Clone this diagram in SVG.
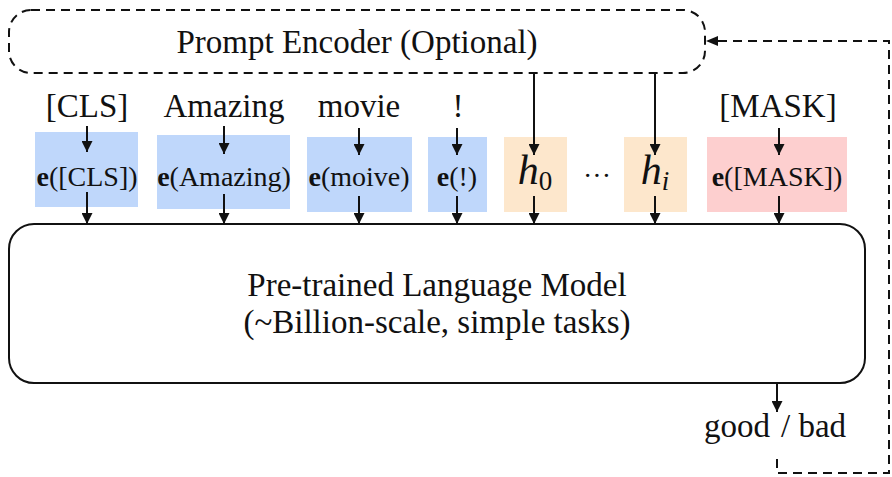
<svg xmlns="http://www.w3.org/2000/svg" width="892" height="477" viewBox="0 0 892 477">
  <style>
    .lbl { font-family: "Liberation Serif", "Times New Roman", serif; fill: #111; }
    .tok { font-size: 33px; }
    .emb { font-size: 28px; }
    .big { font-size: 33px; }
    .math { font-family: "Liberation Serif", "Times New Roman", serif; font-style: italic; font-size: 42px; fill: #111; }
    .wire { stroke: #111; stroke-width: 2; fill: none; }
    .dash { stroke: #111; stroke-width: 2; fill: none; stroke-dasharray: 9 6; }
    .blue { fill: #bfd7fb; }
    .orange { fill: #fde7cc; }
    .red { fill: #fdcfcf; }
  </style>
  <defs>
    <marker id="arrow" viewBox="0 0 10 10" refX="10" refY="5" markerWidth="5.5" markerHeight="5.5" orient="auto">
      <path d="M0,0 L10,5 L0,10 z" fill="#111"/>
    </marker>
  </defs>

  <!-- prompt encoder -->
  <g id="prompt-encoder">
    <rect x="9" y="10" width="696" height="63" rx="22" ry="22" class="dash"/>
    <text x="357" y="53" text-anchor="middle" class="lbl big">Prompt Encoder (Optional)</text>
  </g>

  <!-- input tokens -->
  <g id="tok-cls"><text x="87" y="117" text-anchor="middle" class="lbl tok">[CLS]</text></g>
  <g id="tok-amazing"><text x="224" y="117" text-anchor="middle" class="lbl tok">Amazing</text></g>
  <g id="tok-movie"><text x="359" y="117" text-anchor="middle" class="lbl tok">movie</text></g>
  <g id="tok-excl"><text x="458" y="117" text-anchor="middle" class="lbl tok">!</text></g>
  <g id="tok-mask"><text x="778" y="117" text-anchor="middle" class="lbl tok">[MASK]</text></g>

  <!-- embeddings -->
  <g id="emb-cls">
    <rect x="35" y="132" width="103" height="75" class="blue"/>
    <text x="87" y="186" text-anchor="middle" class="lbl emb"><tspan font-weight="bold">e</tspan>([CLS])</text>
  </g>
  <g id="emb-amazing">
    <rect x="157" y="135" width="133" height="74" class="blue"/>
    <text x="224" y="186" text-anchor="middle" class="lbl emb"><tspan font-weight="bold">e</tspan>(Amazing)</text>
  </g>
  <g id="emb-movie">
    <rect x="307" y="137" width="105" height="75" class="blue"/>
    <text x="359" y="186" text-anchor="middle" class="lbl emb"><tspan font-weight="bold">e</tspan>(moive)</text>
  </g>
  <g id="emb-excl">
    <rect x="428" y="137" width="59" height="75" class="blue"/>
    <text x="457" y="186" text-anchor="middle" class="lbl emb"><tspan font-weight="bold">e</tspan>(!)</text>
  </g>
  <g id="emb-h0">
    <rect x="504" y="137" width="63" height="75" class="orange"/>
    <text x="535" y="184" text-anchor="middle" class="math">h<tspan style="font-style:normal;font-size:27px" dy="6">0</tspan></text>
  </g>
  <g id="ellipsis">
    <text x="597" y="185" text-anchor="middle" class="lbl emb">···</text>
  </g>
  <g id="emb-hi">
    <rect x="624" y="137" width="63" height="75" class="orange"/>
    <text x="655" y="184" text-anchor="middle" class="math">h<tspan style="font-style:italic;font-size:27px" dy="6">i</tspan></text>
  </g>
  <g id="emb-mask">
    <rect x="707" y="137" width="140" height="75" class="red"/>
    <text x="777" y="186" text-anchor="middle" class="lbl emb"><tspan font-weight="bold">e</tspan>([MASK])</text>
  </g>

  <!-- language model -->
  <g id="plm">
    <rect x="9" y="224" width="856" height="159" rx="25" ry="25" fill="#fff" stroke="#111" stroke-width="2"/>
    <text x="437" y="296" text-anchor="middle" class="lbl big">Pre-trained Language Model</text>
    <text x="437" y="333" text-anchor="middle" class="lbl big">(~Billion-scale, simple tasks)</text>
  </g>

  <!-- output -->
  <g id="output">
    <text x="704" y="437" class="lbl big">good</text>
    <text x="781" y="437" class="lbl big">/ bad</text>
  </g>

  <!-- connectors -->
  <g id="connectors">
    <line x1="87" y1="126" x2="87" y2="152" class="wire" marker-end="url(#arrow)"/>
    <line x1="224" y1="126" x2="224" y2="154" class="wire" marker-end="url(#arrow)"/>
    <line x1="359" y1="128" x2="359" y2="155" class="wire" marker-end="url(#arrow)"/>
    <line x1="457" y1="128" x2="457" y2="155" class="wire" marker-end="url(#arrow)"/>
    <line x1="779" y1="128" x2="779" y2="155" class="wire" marker-end="url(#arrow)"/>
    <line x1="534" y1="74" x2="534" y2="155" class="wire" marker-end="url(#arrow)"/>
    <line x1="655" y1="74" x2="655" y2="155" class="wire" marker-end="url(#arrow)"/>

    <line x1="87" y1="192" x2="87" y2="224" class="wire" marker-end="url(#arrow)"/>
    <line x1="224" y1="194" x2="224" y2="224" class="wire" marker-end="url(#arrow)"/>
    <line x1="359" y1="196" x2="359" y2="224" class="wire" marker-end="url(#arrow)"/>
    <line x1="457" y1="196" x2="457" y2="224" class="wire" marker-end="url(#arrow)"/>
    <line x1="534" y1="196" x2="534" y2="224" class="wire" marker-end="url(#arrow)"/>
    <line x1="655" y1="196" x2="655" y2="224" class="wire" marker-end="url(#arrow)"/>
    <line x1="779" y1="196" x2="779" y2="224" class="wire" marker-end="url(#arrow)"/>

    <line x1="777" y1="383" x2="777" y2="412" class="wire" marker-end="url(#arrow)"/>

    <path d="M777,459 L777,473 L889,473 L889,41 L716,41" class="dash"/>
    <path d="M706,41 L718,36 L718,46 z" fill="#111"/>
  </g>
</svg>
